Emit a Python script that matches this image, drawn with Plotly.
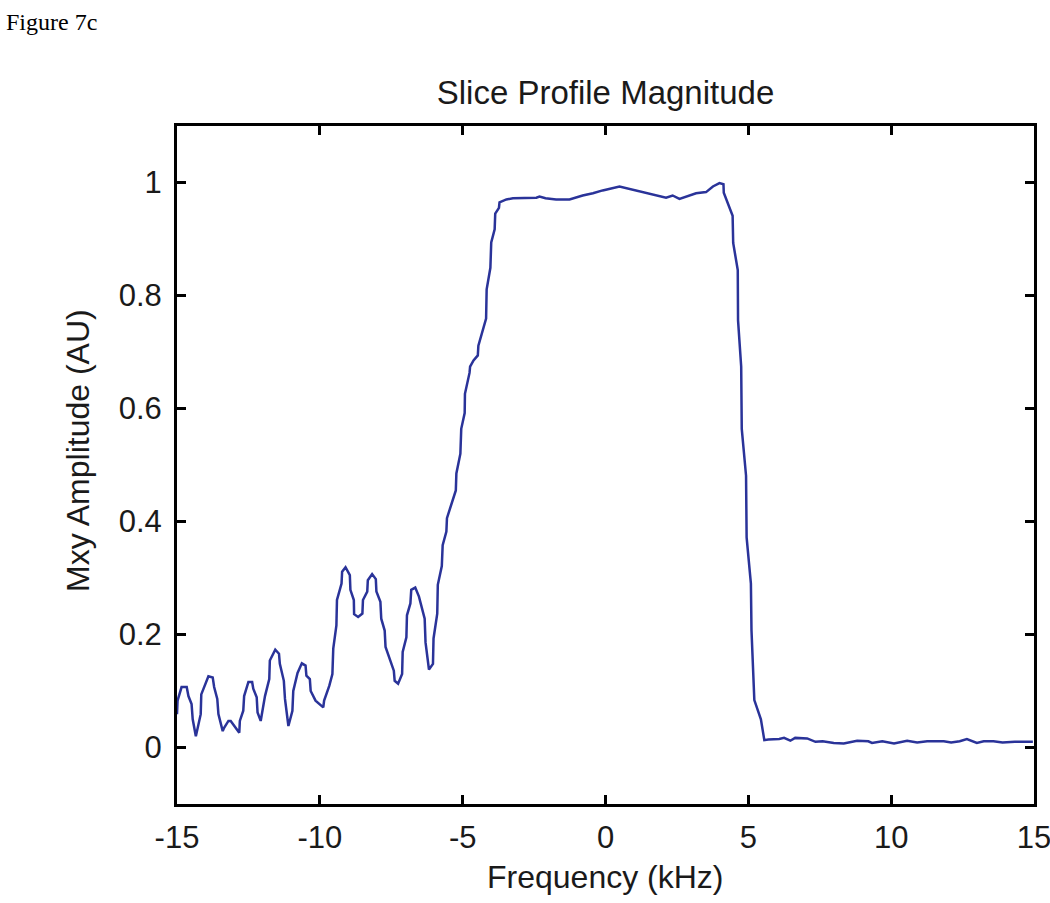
import plotly.graph_objects as go

freq_khz = [
    -15.00, -14.98, -14.84, -14.66, -14.60, -14.49, -14.45, -14.34, -14.17, -14.15,
    -13.90, -13.75, -13.70, -13.59, -13.55, -13.40, -13.35, -13.20, -13.12, -12.97,
    -12.82, -12.80, -12.68, -12.65, -12.50, -12.37, -12.33, -12.21, -12.18, -12.07,
    -11.92, -11.77, -11.75, -11.56, -11.43, -11.40, -11.26, -11.22, -11.10, -10.96,
    -10.93, -10.78, -10.63, -10.50, -10.47, -10.35, -10.32, -10.15, -10.03, -9.88,
    -9.85, -9.67, -9.56, -9.53, -9.42, -9.40, -9.24, -9.22, -9.10, -8.95,
    -8.93, -8.81, -8.80, -8.66, -8.51, -8.49, -8.34, -8.32, -8.17, -8.04,
    -8.02, -7.88, -7.85, -7.73, -7.70, -7.55, -7.41, -7.38, -7.26, -7.12,
    -7.10, -6.97, -6.95, -6.83, -6.80, -6.66, -6.53, -6.33, -6.30, -6.18,
    -6.04, -6.02, -5.89, -5.87, -5.73, -5.70, -5.57, -5.55, -5.24, -5.22,
    -5.08, -5.05, -4.93, -4.92, -4.76, -4.74, -4.62, -4.47, -4.45, -4.18,
    -4.16, -4.03, -4.00, -3.88, -3.86, -3.73, -3.71, -3.47, -3.24, -2.42,
    -2.31, -2.10, -1.73, -1.26, -0.80, -0.44, -0.10, 0.49, 0.83, 1.65,
    2.12, 2.35, 2.59, 3.17, 3.52, 3.76, 3.99, 4.13, 4.14, 4.45,
    4.47, 4.63, 4.64, 4.75, 4.77, 4.92, 4.94, 5.09, 5.11, 5.21,
    5.44, 5.56, 5.70, 6.08, 6.25, 6.47, 6.64, 7.06, 7.35, 7.60,
    7.99, 8.34, 8.50, 8.81, 9.20, 9.33, 9.69, 10.10, 10.56, 10.91,
    11.26, 11.84, 12.10, 12.40, 12.65, 13.00, 13.24, 13.58, 13.90, 14.33,
    14.96,
]

mxy_amplitude = [
    0.059, 0.083, 0.107, 0.107, 0.091, 0.077, 0.050, 0.020, 0.059, 0.094,
    0.126, 0.124, 0.107, 0.086, 0.059, 0.029, 0.035, 0.047, 0.047, 0.036,
    0.026, 0.047, 0.065, 0.091, 0.116, 0.116, 0.104, 0.089, 0.062, 0.047,
    0.091, 0.121, 0.154, 0.173, 0.166, 0.148, 0.118, 0.086, 0.038, 0.065,
    0.100, 0.132, 0.149, 0.145, 0.127, 0.121, 0.100, 0.083, 0.077, 0.071,
    0.083, 0.109, 0.130, 0.175, 0.216, 0.261, 0.290, 0.311, 0.319, 0.305,
    0.279, 0.261, 0.236, 0.231, 0.237, 0.261, 0.276, 0.296, 0.307, 0.298,
    0.276, 0.258, 0.228, 0.207, 0.178, 0.157, 0.136, 0.118, 0.113, 0.130,
    0.169, 0.195, 0.234, 0.255, 0.279, 0.283, 0.267, 0.228, 0.186, 0.138,
    0.148, 0.193, 0.237, 0.288, 0.321, 0.358, 0.382, 0.406, 0.455, 0.485,
    0.520, 0.564, 0.592, 0.626, 0.663, 0.674, 0.685, 0.694, 0.711, 0.759,
    0.811, 0.849, 0.894, 0.917, 0.945, 0.955, 0.965, 0.970, 0.972, 0.973,
    0.975, 0.972, 0.970, 0.970, 0.977, 0.981, 0.986, 0.993, 0.989, 0.979,
    0.973, 0.977, 0.971, 0.981, 0.983, 0.993, 0.999, 0.997, 0.982, 0.941,
    0.893, 0.845, 0.756, 0.674, 0.564, 0.481, 0.372, 0.290, 0.208, 0.084,
    0.050, 0.013, 0.014, 0.015, 0.017, 0.012, 0.017, 0.016, 0.010, 0.011,
    0.008, 0.007, 0.009, 0.012, 0.011, 0.008, 0.011, 0.007, 0.012, 0.009,
    0.011, 0.011, 0.009, 0.011, 0.015, 0.008, 0.011, 0.011, 0.009, 0.010,
    0.010,
]

x_tick_vals = [-15, -10, -5, 0, 5, 10, 15]
x_tick_text = ["-15", "-10", "-5", "0", "5", "10", "15"]
y_tick_vals = [0, 0.2, 0.4, 0.6, 0.8, 1]
y_tick_text = ["0", "0.2", "0.4", "0.6", "0.8", "1"]

font_family = "Liberation Sans, Arial, Helvetica, sans-serif"
text_color = "#1a1a1a"

W, H = 1050, 903
ML, MR, MT, MB = 177, 16, 126, 99
PW, PH = W - ML - MR, H - MT - MB


def px_to_paper_x(px):
    return (px - ML) / PW


def py_to_paper_y(py):
    return (H - MB - py) / PH


fig = go.Figure()
fig.add_trace(go.Scatter(
    x=freq_khz, y=mxy_amplitude, mode="lines",
    line=dict(color="#2A3399", width=2.5),
    showlegend=False, hoverinfo="x+y",
))

axis_common = dict(
    showline=True, linecolor="black", linewidth=3, mirror="ticks",
    ticks="inside", ticklen=9, tickwidth=2.5, tickcolor="black",
    showgrid=False, zeroline=False, ticklabeloverflow="allow",
    automargin=False,
    tickfont=dict(family=font_family, size=31, color=text_color),
)

fig.update_layout(
    width=W, height=H,
    paper_bgcolor="white", plot_bgcolor="white",
    margin=dict(l=ML, r=MR, t=MT, b=MB, autoexpand=False),
    title=dict(text="Slice Profile Magnitude", x=0.5, xanchor="center",
               xref="paper", y=1 - 92 / H, yanchor="middle",
               font=dict(family=font_family, size=33, color=text_color)),
    xaxis=dict(range=[-15, 15], tickvals=x_tick_vals, ticktext=x_tick_text,
               ticklabelstandoff=4, **axis_common),
    yaxis=dict(range=[-0.1, 1.1], tickvals=y_tick_vals, ticktext=y_tick_text,
               ticklabelstandoff=6, **axis_common),
    annotations=[
        dict(text="Frequency (kHz)", xref="paper", yref="paper",
             x=px_to_paper_x(605), y=py_to_paper_y(877),
             xanchor="center", yanchor="middle", showarrow=False,
             font=dict(family=font_family, size=32, color=text_color)),
        dict(text="Mxy Amplitude (AU)", xref="paper", yref="paper",
             x=px_to_paper_x(78), y=py_to_paper_y(451), textangle=-90,
             xanchor="center", yanchor="middle", showarrow=False,
             font=dict(family=font_family, size=32, color=text_color)),
        dict(text="Figure 7c", xref="paper", yref="paper",
             x=px_to_paper_x(4), y=py_to_paper_y(22),
             xanchor="left", yanchor="middle", showarrow=False,
             font=dict(family="Liberation Serif, Times New Roman, serif",
                       size=24, color="black")),
    ],
)

fig.write_html(
    "out.html",
    config={"displayModeBar": False},
    post_script="document.body.style.margin='0';document.body.style.overflow='hidden';",
)
